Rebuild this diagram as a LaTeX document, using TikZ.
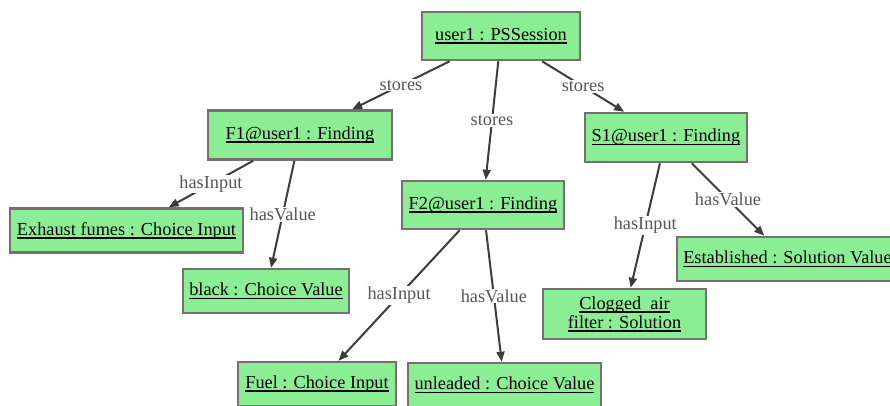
\documentclass[tikz,border=0pt]{standalone}
\usepackage{fontspec}
\setmainfont{Liberation Serif}
\usetikzlibrary{arrows.meta}
\definecolor{vertobj}{RGB}{140,238,148}
\definecolor{bordobj}{RGB}{120,112,112}
\definecolor{gristrait}{RGB}{60,60,60}
\definecolor{grisetiq}{RGB}{85,85,85}
\newcommand{\souligne}[1]{\setbox0\hbox{#1}\rlap{\rule[-3.5pt]{\wd0}{1.6pt}}\box0}

\begin{document}
\begin{tikzpicture}[x=1pt,y=-1pt]
\tikzset{objnoeud/.style={draw=bordobj, line width=2.5pt, fill=vertobj, minimum height=44pt, inner sep=2pt, font=\fontsize{18.3}{19}\selectfont, align=center},
  fleche/.style={draw=gristrait, line width=2pt, -{Triangle[length=10pt,width=8pt]}},
  etiq/.style={fill=white, text=grisetiq, inner sep=1pt, font=\fontsize{18.3}{20}\selectfont}}
\useasboundingbox (0,0) rectangle (890,405);
\clip (0,0) rectangle (890,405);
\node[objnoeud, minimum width=158pt, minimum height=48pt] (U) at (501,36) {\souligne{user1 : PSSession}};
\node[objnoeud, minimum width=184pt, minimum height=49pt] (F1) at (300,135) {\souligne{F1@user1 : Finding}};
\node[objnoeud, minimum width=162pt, minimum height=48pt] (F2) at (483,205) {\souligne{F2@user1 : Finding}};
\node[objnoeud, minimum width=162pt, minimum height=49pt] (S1) at (666,137.5) {\souligne{S1@user1 : Finding}};
\node[objnoeud, minimum width=233pt] (EX) at (126.5,230.5) {\souligne{Exhaust fumes : Choice Input}};
\node[objnoeud, minimum width=166pt] (BL) at (266,291) {\souligne{black : Choice Value}};
\node[objnoeud, minimum width=158pt] (FU) at (317,384) {\souligne{Fuel : Choice Input}};
\node[objnoeud, minimum width=193pt] (UN) at (504.5,385) {\souligne{unleaded : Choice Value}};
\node[objnoeud, minimum width=221pt] (ES) at (787.5,259) {\souligne{Established : Solution Value}};
\node[objnoeud, minimum width=163pt, minimum height=50pt] (CL) at (624.5,314) {\souligne{Clogged\ \ air}\\\souligne{filter : Solution}};
\draw[fleche] (U) -- node[etiq] {stores} (F1);
\draw[fleche] (U) -- node[etiq] {stores} (F2);
\draw[fleche] (U) -- node[etiq] {stores} (S1);
\draw[fleche] (F1) -- node[etiq] {hasInput} (EX);
\draw[fleche] (F1) -- node[etiq] {hasValue} (BL);
\draw[fleche] (F2) -- node[etiq] {hasInput} (FU);
\draw[fleche] (F2) -- node[etiq] {hasValue} (UN);
\draw[fleche] (S1) -- node[etiq] {hasInput} (CL);
\draw[fleche] (S1) -- node[etiq] {hasValue} (ES);
\end{tikzpicture}
\end{document}
